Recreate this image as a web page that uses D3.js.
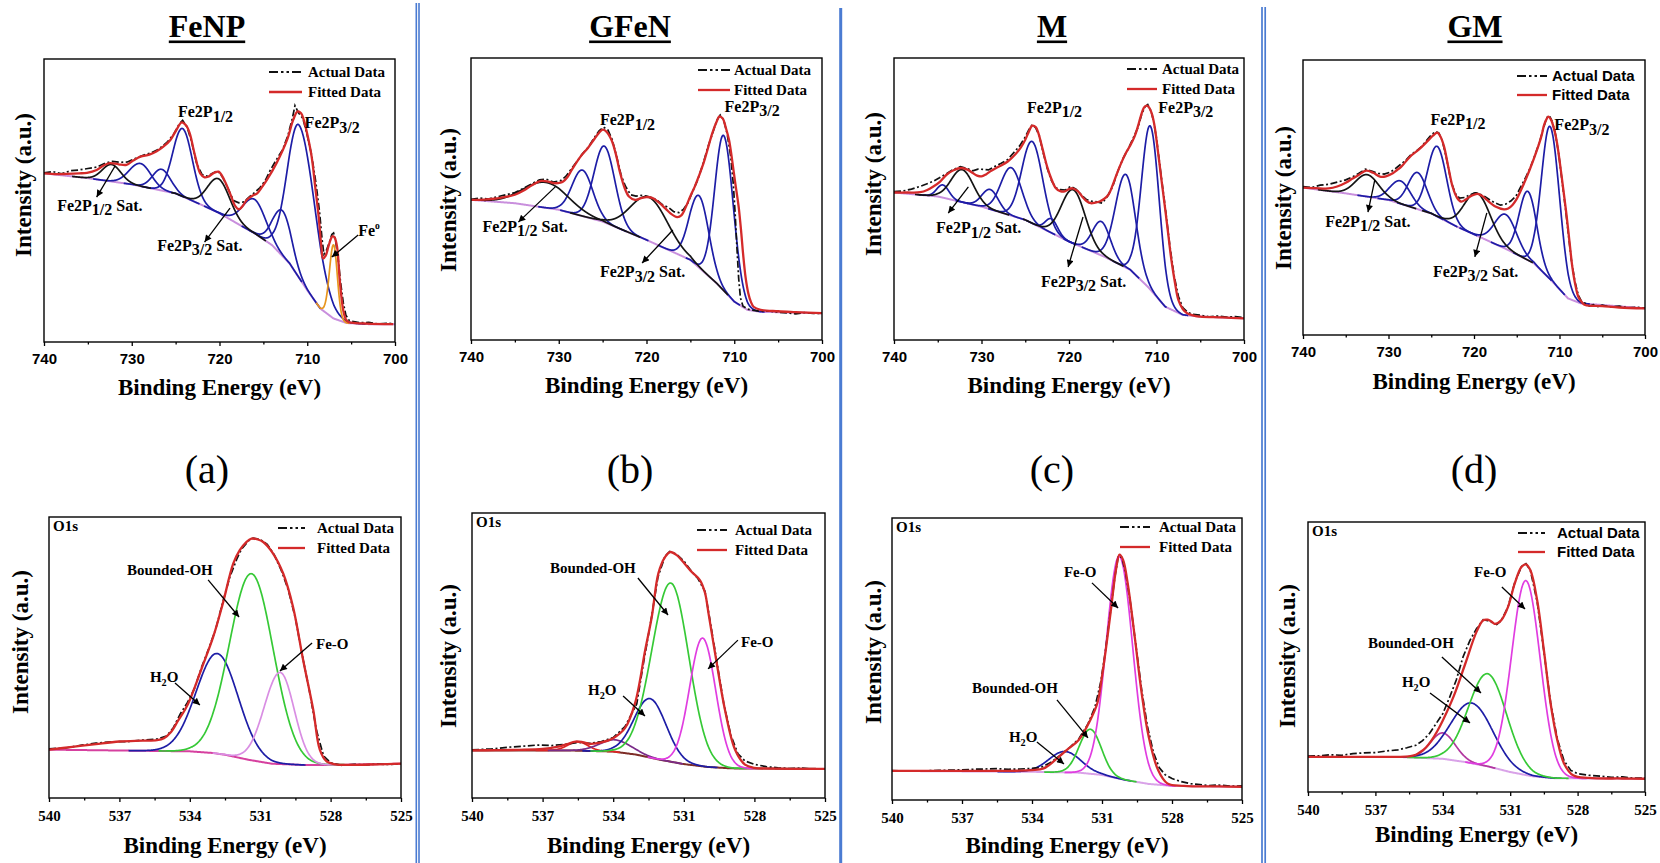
<!DOCTYPE html>
<html><head><meta charset="utf-8">
<script src="https://cdn.jsdelivr.net/npm/d3@7"></script>
<style>
html,body{margin:0;padding:0;background:#fff;}
svg{display:block;}
</style></head><body>
<svg id="fig" width="1660" height="863"></svg>
<script>
// ---------------- tick values ----------------
const fe2pTicks = [740, 730, 720, 710, 700];
const fe2pMinor = [735, 725, 715, 705];
const o1sTicks = [540, 537, 534, 531, 528, 525];
const o1sMinor = [538.5, 535.5, 532.5, 529.5, 526.5];

// ---------------- Fe 2p : FeNP ----------------
// [binding energy (eV), intensity (a.u., 0-100 of the plot height)]
const fenpFit = [[740,59.6],[738.5,59.3],[737.4,59.4],[736,59.6],[735.1,59.8],[734,60.8],[733.2,62.4],[732.5,63.2],[731.5,62.8],[730.6,62.6],[729.8,64.2],[729,65.5],[728,66.2],[727.2,67.3],[726.4,69],[725.6,71.4],[724.9,75],[724.3,77.6],[723.8,76.5],[723.4,73.8],[722.8,66],[722.2,59.6],[721.7,58.2],[721.3,58.4],[720.6,59.8],[720.1,60.2],[719.5,57.5],[718.8,52.5],[718.2,48],[717.8,46.9],[717.3,48.3],[716.9,50.2],[716.2,51.8],[715.7,52.5],[715.1,55],[714.6,57.3],[713.5,63.2],[712.3,71.4],[711.6,78.5],[711.1,81.5],[710.7,80.8],[710.4,78.5],[710,73.5],[709.5,65.5],[709.1,55],[708.7,44.3],[708.4,34],[708.2,29.5],[707.9,30.5],[707.6,33.6],[707.3,36.5],[707.1,37.4],[706.9,37],[706.6,33.6],[706.3,22],[705.9,11.2],[705.6,8],[705.3,7.1],[704.5,6.7],[703.2,6.5],[700.2,6.3]];
const fenpRaw = [[740,59.8],[739,60.2],[738,59.4],[737,60.5],[736,60.8],[735,61.3],[734,61.8],[733,63.2],[732.2,63.8],[731.3,63.5],[730.5,63.6],[729.6,64.8],[728.7,66],[727.8,66.8],[727,68],[726,70.5],[725.2,73.5],[724.6,77],[724.2,78.3],[723.7,76],[723.2,71],[722.6,63],[722,59.2],[721.4,58.6],[720.8,59.6],[720.2,60.5],[719.6,58],[719,54],[718.4,50],[717.8,49.2],[717.2,49.5],[716.6,51.3],[716,52.8],[715.4,54.5],[714.8,57],[714.2,60.8],[713.5,64.5],[712.8,68],[712.2,73],[711.7,79],[711.4,83.5],[711,81],[710.5,79],[710,73],[709.5,66],[709,56],[708.6,46],[708.3,36],[708.1,31],[707.8,32.5],[707.5,35],[707.2,38],[707,38.5],[706.8,36.5],[706.5,30],[706.2,21],[705.9,14],[705.6,9.5],[705.2,7.5],[704,6.8],[703,6.9],[702,6.4],[701,6.6],[700.2,6.5]];
const fenpBg = [[740,59.6],[735,57.9],[730,55.7],[725,52.5],[722,48.4],[720,45.5],[718,41.9],[716,38.4],[714,34.2],[712,27.7],[710,18.3],[708.5,11.8],[707,8.3],[705.5,6.7],[703,6.3],[700,6.3]];
// fitted components: [centre (eV), height above background, FWHM on high-BE side, FWHM on low-BE side]
const fenpMain = [[710.9,54,3.2,4.2],[712.8,16,2.6,2.4],[716.0,12,3.2,3.0],[724.2,24,2.6,2.6],[726.6,7.5,2.4,2.4],[729.0,8,3.0,2.8]];
const fenpSat = [[720.1,12,3.0,3.0],[732.3,6,2.5,2.5]];
const fenpMetal = [[707.0,26,1.1,1.0]];

// ---------------- Fe 2p : GFeN ----------------
const gfenFit = [[740,49.7],[738.5,49.8],[737,50.2],[736,50.8],[735,51.5],[734,53],[733,55],[732,56.4],[731.2,56.2],[730.5,55.6],[729.8,55.8],[729.5,56.2],[729,57.8],[728.5,60.4],[727.5,65.1],[726.7,68],[726,71],[725.4,73.5],[725,74.6],[724.6,74],[724,71],[723.5,66],[723,59.2],[722.5,54],[722,50.9],[721.3,49.7],[720.7,50.2],[720,50.7],[719.3,50.3],[718.5,48.5],[717.8,46.5],[717.3,45],[716.5,43.6],[716,44.3],[715.5,47.3],[715,51],[714.5,54.4],[713.5,62.7],[713,68],[712.5,73.4],[712,77.5],[711.7,79.3],[711.3,78.5],[711,75.7],[710.6,71],[710.3,65.1],[709.9,56],[709.5,47.3],[709.2,38],[709,30.8],[708.7,22],[708.4,16.6],[708.1,13.5],[707.8,11.8],[707,10.7],[705,10.2],[703,9.9],[700,9.5]];
const gfenRaw = [[740,49.9],[739,50.3],[738,50],[737,50.8],[736,51.5],[735,52.3],[734,53.8],[733,55.5],[732.2,56.8],[731.4,57],[730.6,56],[729.8,56.5],[729.2,58],[728.6,60.5],[728,63],[727.3,66],[726.6,68.5],[726,71.5],[725.4,74.2],[724.9,75.5],[724.4,74.5],[723.9,71],[723.4,65],[722.9,58.5],[722.4,54.5],[721.8,51.5],[721.2,51],[720.6,51.3],[720,51],[719.4,50.5],[718.8,49.6],[718.2,48],[717.5,47],[716.9,45.5],[716.3,45.2],[715.8,46.3],[715.3,48.5],[714.7,53],[714.2,56.5],[713.6,62],[713,68.5],[712.5,73],[712,77.8],[711.6,79.8],[711.2,78],[710.8,73],[710.4,65],[710.1,55],[709.9,45],[709.7,33],[709.5,22],[709.3,15],[709,12],[708.5,11],[708,10.6],[707,10.2],[706,10.3],[705,9.8],[704,9.6],[703,9.3],[702,9.7],[701,9.4],[700,9.5]];
const gfenBg = [[740,49.7],[735,48.5],[730,46.2],[725,42],[720,35.5],[715,28.4],[712,20.1],[710,13.6],[708.5,10.7],[707,10],[700,9.5]];
const gfenMain = [[711.2,55,2.4,2.6],[714.0,25.5,2.6,2.6],[724.8,27,2.8,2.8],[727.3,16.3,2.8,2.8]];
const gfenSat = [[719.7,15.5,5.0,5.0],[731.5,9,6,6]];

// ---------------- Fe 2p : M ----------------
const mFit = [[740,52.3],[738.5,52.3],[737,52.4],[736.2,53.2],[735.5,54.4],[734.8,56],[734,58.6],[733.2,60.2],[732.3,61],[731.6,60.4],[731,59.2],[730.5,58.3],[730,58],[729.5,58.7],[729,59.8],[728,61.5],[727,63.3],[726,66.3],[725.5,68.3],[725,71],[724.6,73.8],[724.2,76],[723.8,75.5],[723.5,73.4],[723,67.5],[722.5,61.5],[722,57],[721.5,53.8],[721,52.8],[720.5,52.7],[720,53.5],[719.6,53.8],[719,52.8],[718.5,50.9],[718,49.3],[717.5,48.5],[717,48.7],[716.5,49.1],[716,50],[715.5,51.5],[715,55],[714.5,59.2],[714,63],[713.5,66.3],[713,69],[712.5,72.2],[712.1,76],[711.8,79.3],[711.4,82.5],[711.1,83.1],[710.8,82.2],[710.5,79.9],[710.2,75.5],[710,71],[709.5,58.5],[709,46.2],[708.6,36],[708.3,28.4],[707.9,20.5],[707.5,14.2],[707,11],[706.5,9.5],[705.5,8.5],[705,8.3],[702.5,8],[700,7.7]];
const mRaw = [[740,52.6],[739,52.8],[738,53.5],[737,54.5],[736.3,55.3],[735.5,56.3],[734.8,57.5],[734,59],[733.2,60.5],[732.4,61.5],[731.6,60.8],[731,60],[730.4,60.6],[729.8,60.5],[729.2,60.3],[728.5,61.5],[727.8,62.6],[727,64],[726.3,66.5],[725.6,69],[725,72],[724.6,74.5],[724.2,76.3],[723.8,75.2],[723.4,72.5],[723,67],[722.5,61],[722,56.5],[721.5,54],[721,53.3],[720.4,53.2],[719.8,54.5],[719.2,53.5],[718.6,51.5],[718,49.8],[717.4,49.2],[716.8,49],[716.2,48.5],[715.6,51],[715,54.5],[714.4,60],[713.8,64.5],[713.2,68],[712.6,72],[712.1,75.5],[711.7,80],[711.3,82.8],[711,83.5],[710.6,81],[710.3,77],[710,71.5],[709.5,59],[709,47],[708.5,34],[708,23],[707.5,15.5],[707,11.5],[706.5,10],[706,9.2],[705,8.8],[704,8.2],[703,8.5],[702,8.1],[701,8.3],[700,7.9]];
const mBg = [[740,52.3],[735,50.9],[730,47.3],[725,42.6],[720,34.9],[716,29.6],[713,24.9],[711,18.9],[709,11.8],[707,8.9],[705,8.3],[700,7.7]];
const mMain = [[710.7,58,2.4,2.4],[713.5,33,2.8,2.6],[716.3,12,2.4,2.4],[722.0,5,1.6,1.6],[724.2,29,2.8,2.8],[726.6,17,2.8,2.8],[729.0,7,2.2,2.2],[734.4,4.5,1.6,1.6]];
const mSat = [[719.5,19,3.2,3.2],[732.2,11.5,3.0,3.0]];

// ---------------- Fe 2p : GM ----------------
const gmFit = [[740,53.6],[738.5,53.4],[737,53.3],[736,54],[735,55.4],[734.2,56.9],[733.5,58.2],[732.6,59.8],[731.8,59],[731,57.6],[730.3,57.7],[729.5,58.8],[729,60],[728.5,61.2],[727.5,64.8],[726.5,67.3],[725.5,70.3],[724.8,72.5],[724.3,73.6],[723.9,72],[723.5,68.5],[723,61],[722.5,53.9],[722,50],[721.5,48.5],[721,49.2],[720.5,50.3],[719.6,51.3],[719,50.5],[718.5,49.1],[717.5,46.7],[716.5,45.7],[716,46],[715.5,47.3],[715,49.5],[714.5,52.7],[713.5,60],[712.5,68.5],[712.1,72.5],[711.8,76.4],[711.5,78.6],[711.3,79.4],[711,78.3],[710.6,74.5],[710.3,70],[710,63.6],[709.6,54],[709.2,44.2],[708.8,33],[708.5,24.8],[708.1,17.5],[707.8,13.9],[707.4,12],[707,10.9],[705,10.5],[703,10],[700,9.7]];
const gmRaw = [[740,54],[739,53.6],[738,54.5],[737,54.8],[736,55.6],[735,56.4],[734.2,57.5],[733.5,58.7],[732.7,60.3],[731.9,59.5],[731.2,58.8],[730.5,58.5],[729.8,59.2],[729.2,60.5],[728.6,62],[728,63.5],[727.4,65.5],[726.8,66.8],[726.2,68.3],[725.6,70.5],[725,72.8],[724.5,74],[724.1,73.4],[723.7,70.5],[723.2,64],[722.7,56],[722.2,51.5],[721.7,49.8],[721.1,50],[720.5,51],[719.9,51.5],[719.3,51.2],[718.7,50.3],[718.1,49],[717.5,48],[716.9,47.2],[716.3,47.6],[715.7,48.7],[715.1,50.5],[714.6,53.5],[714,57],[713.4,61],[712.8,66],[712.3,70.5],[711.9,75],[711.5,79],[711.2,79.8],[710.9,78],[710.5,73.5],[710.1,66],[709.7,56],[709.3,46],[708.9,35],[708.6,27],[708.2,19.5],[707.8,14.5],[707.4,12],[707,11.5],[706.5,10.5],[706,11],[705.5,10.3],[705,10.9],[704,10.2],[703,10.5],[702,9.9],[701,10.1],[700,9.8]];
const gmBg = [[740,53.6],[735,51.5],[730,49.1],[725,44.2],[722,39.4],[719,35.2],[716,30.9],[713,26.1],[711,20],[709,13.3],[707.5,11.5],[700,9.7]];
const gmMain = [[711.1,55.5,2.4,2.6],[713.7,25,2.4,2.4],[716.3,12.5,3.0,3.0],[724.3,25.5,2.6,2.6],[726.6,13.3,2.6,2.6],[728.6,8.3,2.8,2.8]];
const gmSat = [[719.6,15.5,3.6,3.6],[732.5,8,3.2,3.2]];

// ---------------- O 1s : (a) FeNP ----------------
const fenpOFit = [[540,17.2],[539,18.2],[538,19.2],[537,20.1],[536,20.4],[535.4,20.6],[535.1,21.3],[534.8,23.5],[534.5,27.5],[534.2,31.5],[534,34.9],[533.5,46],[533,57.4],[532.6,69],[532.15,83.4],[531.87,88.2],[531.6,91],[531.37,92.3],[531.1,92],[530.87,91.1],[530.45,87],[530.02,79.9],[529.6,68],[529.17,49.1],[528.74,31.4],[528.46,17.2],[528.17,13],[527.8,12],[527,11.8],[526,12],[525,12.2]];
const fenpORaw = [[540,17.5],[539.3,17.8],[538.6,18.8],[538,19.5],[537.3,20],[536.6,20.1],[536,20.6],[535.4,21],[535,22],[534.7,25],[534.4,30],[534.1,34],[533.8,39],[533.5,46.5],[533.2,53],[532.9,60],[532.6,69.5],[532.3,78.5],[532,85],[531.8,88.5],[531.5,91.5],[531.3,92.5],[531,92],[530.7,90.3],[530.4,86.5],[530.1,81],[529.8,74],[529.5,64],[529.2,50.5],[528.9,38],[528.6,24],[528.3,15],[528,12.5],[527.5,11.6],[527,12],[526.5,11.8],[526,12.1],[525.5,11.9],[525,12.2]];
const fenpOBg = [[540,17.2],[537,16.9],[534,16.6],[533,16],[532.5,15.4],[531.5,13.6],[530.5,12.2],[529,11.7],[527,11.9],[525,12.2]];
const fenpOH2O = [[532.83,35.6,2.1,2.1]];
const fenpOOH = [[531.37,66.4,2.2,2.2]];
const fenpOFeO = [[530.15,32.6,1.6,1.4]];

// ---------------- O 1s : (b) GFeN ----------------
const gfenOFit = [[540,16.7],[539,16.8],[538,16.9],[537,17.2],[536.4,17.9],[536,18.8],[535.6,19.8],[535.3,19.6],[535,19],[534.5,19.5],[534,21],[533.5,24.5],[533.07,33.3],[532.64,51.9],[532.36,63.6],[532.08,78.8],[531.8,84.5],[531.58,86.3],[531.3,85.2],[531.09,83.4],[530.66,79.3],[530.31,76.4],[530.1,72],[529.95,64.8],[529.6,47.3],[529.25,30.9],[528.82,16.9],[528.4,11.7],[528,10.6],[527,10.3],[525,10.2]];
const gfenORaw = [[540,16.9],[539.2,17.2],[538.5,17.8],[537.8,18.2],[537.2,18.6],[536.6,18.4],[536,18.9],[535.5,19.5],[535,19.2],[534.5,19.8],[534,21.2],[533.5,25],[533,33],[532.7,48],[532.4,62],[532.1,77.5],[531.8,84.8],[531.6,86.5],[531.3,85.5],[531,83.2],[530.7,79.8],[530.4,77],[530.1,72.5],[529.9,63],[529.6,48],[529.3,33],[529,22],[528.7,15.5],[528.4,13],[528,11.8],[527.5,11],[527,10.6],[526.5,10.3],[526,10.5],[525.5,10.1],[525,10.3]];
const gfenOBg = [[540,16.7],[536,16.7],[534,16.3],[533,15.2],[532,13.4],[531,11.9],[530,10.9],[529,10.4],[525,10.2]];
const gfenOHigh = [[535.5,3.1,1.0,1.0]];
const gfenOMid = [[533.9,4.2,1.6,1.6]];
const gfenOH2O = [[532.43,20.7,1.6,1.6]];
const gfenOOH = [[531.55,62.7,1.9,1.8]];
const gfenOFeO = [[530.2,45,1.3,1.3]];

// ---------------- O 1s : (c) M ----------------
const mOFit = [[540,10.3],[538,10.3],[536,10.3],[534.5,10.4],[534,10.6],[533.5,11.2],[533,14.2],[532.5,17.8],[532,21.3],[531.5,28.4],[531.2,34.3],[531,43.8],[530.8,55.6],[530.6,68.6],[530.4,81.7],[530.25,87],[530.1,85.2],[529.9,76.9],[529.6,58],[529.3,37.9],[529,22.5],[528.6,10.7],[528.2,5.9],[527.5,5],[526,4.8],[525,4.7]];
const mORaw = [[540,10.4],[539,10.2],[538,10.5],[537,10.7],[536.5,10.9],[536,11],[535.5,11.1],[535,10.9],[534.5,11],[534,11.2],[533.6,11.6],[533.2,13.3],[532.8,15.8],[532.4,18.5],[532,21.6],[531.6,27],[531.3,33],[531.05,42],[530.85,53],[530.65,66],[530.45,79],[530.3,86.5],[530.15,86],[530,81],[529.8,71],[529.55,55],[529.3,39],[529.05,26],[528.8,17],[528.55,11.5],[528.3,9],[528,7.6],[527.6,6.5],[527.2,5.8],[526.8,5.5],[526.4,5.1],[526,5.3],[525.5,4.9],[525,5]];
const mOBg = [[540,10.3],[534,10],[532,9.7],[531,8.9],[530,7.1],[529,5.7],[528,5],[525,4.7]];
const mOH2O = [[532.6,7.4,1.6,1.6]];
const mOOH = [[531.5,15.8,1.1,1.1]];
const mOFeO = [[530.26,78.8,1.3,1.35]];

// ---------------- O 1s : (d) GM ----------------
const gmOFit = [[540,13],[538.5,13],[537,13],[536,13],[535.5,13.2],[535.2,13.8],[535,14.8],[534.75,16.5],[534.5,19.1],[534.25,22.5],[534,26.5],[533.5,35.8],[533,47.5],[532.5,59.3],[532.2,63.6],[532,63.8],[531.85,63.2],[531.7,62.3],[531.55,62.6],[531.4,63.6],[531.1,68.5],[530.8,77.2],[530.5,83.3],[530.3,84.3],[530.1,82.1],[529.8,71],[529.5,52.5],[529.2,32.7],[528.9,19.1],[528.6,10.5],[528.2,6.2],[527.5,5.2],[526,5],[525,4.9]];
const gmORaw = [[540,13.3],[539.5,13.4],[539,13.8],[538.5,13.6],[538,14.2],[537.5,14.5],[537,14.6],[536.5,15.2],[536,15.6],[535.6,16.4],[535.2,17.3],[534.9,19],[534.6,21.6],[534.3,25.3],[534,29],[533.7,35],[533.4,41.5],[533.1,50],[532.8,56],[532.5,60.5],[532.2,63.8],[532,63.5],[531.8,62.8],[531.6,62],[531.4,63.5],[531.1,68.5],[530.8,77.5],[530.5,83.5],[530.3,84.6],[530.1,82],[529.8,70.5],[529.5,52],[529.2,33],[528.9,19.5],[528.6,11.5],[528.3,8],[528,6.8],[527.5,6.2],[527,5.9],[526.5,5.4],[526,5.6],[525.5,5.1],[525,5.2]];
const gmOBg = [[540,13],[536,13],[534,12.3],[533,11.1],[532,9.5],[531,7.4],[530,5.8],[529,5.1],[525,4.9]];
const gmOHigh = [[534.0,9.6,1.3,1.3]];
const gmOH2O = [[532.71,22.3,2.2,2.2]];
const gmOOH = [[532.0,34.3,2.0,2.0]];
const gmOFeO = [[530.3,72,1.5,1.5]];

// ---------------- styling ----------------
const SERIF = '"Liberation Serif","Times New Roman",serif';
const SANS = '"Liberation Sans",Arial,sans-serif';
const C = {
  blue: '#1d1da6', black: '#141414', orange: '#e8961e', fit: '#d42a2a',
  bgTop: '#c98fdd', green: '#36c936', violet: '#d98ee3', magenta: '#e03de0',
  purple: '#7a2b88', crimson: '#e02424', plum: '#b2369f',
  bgA: '#d6409f', bgB: '#7d2d27', bgLight: '#d9a2e8', sep: '#4a7bd2'
};

const svg = d3.select('#fig');
const defs = svg.append('defs');
defs.append('marker').attr('id', 'head')
  .attr('viewBox', '0 0 10 10').attr('refX', 10).attr('refY', 5)
  .attr('markerWidth', 8).attr('markerHeight', 7).attr('markerUnits', 'userSpaceOnUse')
  .attr('orient', 'auto')
  .append('path').attr('d', 'M0,0 L10,5 L0,10 z').attr('fill', '#000');

// column separators
[[416.3, 1.6, 3], [419, 1.6, 3], [840.7, 3, 8], [1262, 1.7, 7], [1265.2, 1.7, 7]].forEach(([x, w, y0]) => {
  svg.append('rect').attr('x', x - w / 2).attr('y', y0).attr('width', w).attr('height', 863 - y0).attr('fill', C.sep);
});

// label helper: parts are strings or [text, 'sub'|'subs'|'sup']
function richText(sel, parts, size) {
  let shift = 0;
  parts.forEach(p => {
    const t = sel.append('tspan');
    if (typeof p === 'string') {
      t.text(p).attr('dy', -shift); shift = 0;
    } else {
      const [txt, kind] = p;
      let d = 0, fs = size;
      if (kind === 'sub') { d = 4.5; }
      if (kind === 'subs') { d = 4; fs = size * 0.68; }
      if (kind === 'sup') { d = -7; fs = size * 0.6; }
      t.text(txt).attr('dy', d - shift).attr('font-size', fs);
      shift = d;
    }
  });
}

const panels = [
  { title: 'FeNP', titleX: 207, frame: [44, 59, 395, 342], dom: [740, 700], ticks: fe2pTicks, minor: fe2pMinor, tickFont: SANS, tickPad: 7,
    xLab: 53, yLab: [23, 185], legend: [225, 13, 33, 6, 20, SERIF],
    fit: fenpFit, raw: fenpRaw, bg: fenpBg, bgColor: C.bgTop,
    comps: [[fenpMain, C.blue], [fenpSat, C.black], [fenpMetal, C.orange]],
    labels: [
      { at: [724.73, 79.5], parts: ['Fe2P', ['1/2', 'sub']] },
      { at: [710.3, 75.6], parts: ['Fe2P', ['3/2', 'sub']] },
      { at: [738.5, 46.3], parts: ['Fe2P', ['1/2', 'sub'], ' Sat.'] },
      { at: [727.1, 32.2], parts: ['Fe2P', ['3/2', 'sub'], ' Sat.'] },
      { at: [704.2, 37.5], parts: ['Fe', ['o', 'sup']] }
    ],
    arrows: [[[731.9, 62.2], [734.0, 51.2]], [[718.8, 47.3], [721.7, 35.3]], [[704.2, 37.8], [707.2, 30]]],
    labelSize: 16 },
  { title: 'GFeN', titleX: 630, frame: [471, 58, 822, 340], dom: [740, 700], ticks: fe2pTicks, minor: fe2pMinor, tickFont: SANS, tickPad: 7,
    xLab: 53, yLab: [448, 200], legend: [227, 12, 32, 4, 20, SERIF],
    fit: gfenFit, raw: gfenRaw, bg: gfenBg, bgColor: C.bgTop,
    comps: [[gfenMain, C.blue], [gfenSat, C.black]],
    labels: [
      { at: [725.3, 76.2], parts: ['Fe2P', ['1/2', 'sub']] },
      { at: [711.1, 80.9], parts: ['Fe2P', ['3/2', 'sub']] },
      { at: [738.7, 38.3], parts: ['Fe2P', ['1/2', 'sub'], ' Sat.'] },
      { at: [725.3, 22.3], parts: ['Fe2P', ['3/2', 'sub'], ' Sat.'] }
    ],
    arrows: [[[730.4, 54.3], [734.6, 41.8]], [[717.0, 39], [720.5, 27.3]]],
    labelSize: 16 },
  { title: 'M', titleX: 1052, frame: [894, 58, 1244, 340], dom: [740, 700], ticks: fe2pTicks, minor: fe2pMinor, tickFont: SANS, tickPad: 7,
    xLab: 53, yLab: [873, 184], legend: [233, 11, 30, 5, 20, SERIF],
    fit: mFit, raw: mRaw, bg: mBg, bgColor: C.bgTop,
    comps: [[mMain, C.blue], [mSat, C.black]],
    labels: [
      { at: [724.8, 80.5], parts: ['Fe2P', ['1/2', 'sub']] },
      { at: [709.8, 80.5], parts: ['Fe2P', ['3/2', 'sub']] },
      { at: [735.2, 37.9], parts: ['Fe2P', ['1/2', 'sub'], ' Sat.'] },
      { at: [723.2, 18.8], parts: ['Fe2P', ['3/2', 'sub'], ' Sat.'] }
    ],
    arrows: [[[731.5, 54.3], [733.8, 45]], [[718.4, 43.6], [720.1, 25.9]]],
    labelSize: 16 },
  { title: 'GM', titleX: 1475, frame: [1303, 60, 1645, 335], dom: [740, 700], ticks: fe2pTicks, minor: fe2pMinor, tickFont: SANS, tickPad: 7,
    xLab: 54, yLab: [1283, 198], legend: [214, 16, 30, 5, 19, SANS],
    fit: gmFit, raw: gmRaw, bg: gmBg, bgColor: C.bgTop,
    comps: [[gmMain, C.blue], [gmSat, C.black]],
    labels: [
      { at: [725.1, 76.4], parts: ['Fe2P', ['1/2', 'sub']] },
      { at: [710.6, 74.5], parts: ['Fe2P', ['3/2', 'sub']] },
      { at: [737.4, 39.3], parts: ['Fe2P', ['1/2', 'sub'], ' Sat.'] },
      { at: [724.8, 21.1], parts: ['Fe2P', ['3/2', 'sub'], ' Sat.'] }
    ],
    arrows: [[[731.6, 56.4], [732.4, 44.7]], [[718.5, 44.4], [719.9, 28.4]]],
    labelSize: 16 },
  { tag: '(a)', tagX: 207, frame: [49, 517, 401, 798], dom: [540, 525], ticks: o1sTicks, minor: o1sMinor, tickFont: SERIF, tickPad: 8,
    xLab: 55, yLab: [20, 642], legend: [229, 11, 27, 12, 20, SERIF],
    fit: fenpOFit, raw: fenpORaw, bg: fenpOBg, bgColor: C.bgA,
    comps: [[fenpOH2O, C.blue], [fenpOOH, C.green], [fenpOFeO, C.violet]],
    labels: [
      { at: [536.68, 79.4], parts: ['Bounded-OH'] },
      { at: [535.70, 41.3], parts: ['H', ['2', 'subs'], 'O'] },
      { at: [528.62, 53], parts: ['Fe-O'] }
    ],
    arrows: [[[533.22, 77.6], [531.90, 64.4]], [[534.63, 40.9], [533.57, 33.1]], [[528.79, 55.2], [530.16, 45.2]]],
    labelSize: 15, o1s: true },
  { tag: '(b)', tagX: 630, frame: [472, 513, 825, 798], dom: [540, 525], ticks: o1sTicks, minor: o1sMinor, tickFont: SERIF, tickPad: 8,
    xLab: 55, yLab: [448, 656], legend: [225, 17, 30, 8, 20, SERIF],
    fit: gfenOFit, raw: gfenORaw, bg: gfenOBg, bgColor: C.bgB,
    comps: [[gfenOHigh, C.crimson], [gfenOMid, C.purple], [gfenOH2O, C.blue], [gfenOOH, C.green], [gfenOFeO, C.magenta]],
    labels: [
      { at: [536.69, 78.9], parts: ['Bounded-OH'] },
      { at: [535.07, 36.1], parts: ['H', ['2', 'subs'], 'O'] },
      { at: [528.57, 53], parts: ['Fe-O'] }
    ],
    arrows: [[[532.95, 77.2], [531.67, 64.2]], [[533.58, 35.8], [532.65, 28.8]], [[528.70, 55.4], [529.97, 45.3]]],
    labelSize: 15, o1s: true },
  { tag: '(c)', tagX: 1052, frame: [892, 518, 1242, 800], dom: [540, 525], ticks: o1sTicks, minor: o1sMinor, tickFont: SERIF, tickPad: 8,
    xLab: 53, yLab: [873, 652], legend: [228, 9, 30, 9, 20, SERIF],
    fit: mOFit, raw: mORaw, bg: mOBg, bgColor: C.bgLight,
    comps: [[mOH2O, C.blue], [mOOH, C.green], [mOFeO, C.magenta]],
    labels: [
      { at: [532.63, 79.1], parts: ['Fe-O'] },
      { at: [536.57, 37.9], parts: ['Bounded-OH'] },
      { at: [534.99, 20.6], parts: ['H', ['2', 'subs'], 'O'] }
    ],
    arrows: [[[531.43, 77], [530.31, 68.1]], [[532.93, 35.5], [531.6, 22]], [[533.79, 20.6], [532.63, 12.8]]],
    labelSize: 15, o1s: true },
  { tag: '(d)', tagX: 1474, frame: [1308, 522, 1645, 792], dom: [540, 525], ticks: o1sTicks, minor: o1sMinor, tickFont: SERIF, tickPad: 8,
    xLab: 50, yLab: [1287, 656], legend: [210, 11, 27, 12, 19, SANS],
    fit: gmOFit, raw: gmORaw, bg: gmOBg, bgColor: C.bgLight,
    comps: [[gmOHigh, C.plum], [gmOH2O, C.blue], [gmOOH, C.green], [gmOFeO, C.magenta]],
    labels: [
      { at: [532.61, 79.6], parts: ['Fe-O'] },
      { at: [537.33, 53.3], parts: ['Bounded-OH'] },
      { at: [535.82, 38.9], parts: ['H', ['2', 'subs'], 'O'] }
    ],
    arrows: [[[531.37, 75.9], [530.34, 67.8]], [[534.04, 50], [532.3, 36.7]], [[534.57, 36.7], [532.79, 25.6]]],
    labelSize: 15, o1s: true }
];

const LN4 = 4 * Math.LN2;

panels.forEach((p, i) => {
  const [l, t, r, b] = p.frame;
  const x = d3.scaleLinear().domain(p.dom).range([l, r]);
  const y = d3.scaleLinear().domain([0, 100]).range([b, t]);
  const g = svg.append('g');

  defs.append('clipPath').attr('id', 'clip' + i)
    .append('rect').attr('x', l).attr('y', t).attr('width', r - l).attr('height', b - t);
  const plot = g.append('g').attr('clip-path', `url(#clip${i})`);

  const smooth = d3.line().x(d => x(d[0])).y(d => y(d[1])).curve(d3.curveBasis);
  const bgAt = d3.scaleLinear().domain(p.bg.map(d => d[0])).range(p.bg.map(d => d[1])).clamp(true);

  // background
  const eAll = d3.range(p.dom[0], p.dom[1] - 1e-9, -0.05);
  plot.append('path').datum(eAll.map(e => [e, bgAt(e)]))
    .attr('d', smooth).attr('fill', 'none').attr('stroke', p.bgColor).attr('stroke-width', 2);

  // fitted components sitting on the background
  p.comps.forEach(([list, color]) => {
    list.forEach(([c, h, wHi, wLo]) => {
      const es = d3.range(c + 1.8 * wHi, c - 1.8 * wLo, -0.02);
      const pts = es.map(e => {
        const w = e > c ? wHi : wLo;
        return [e, bgAt(e) + h * Math.exp(-LN4 * ((e - c) / w) ** 2)];
      });
      plot.append('path').datum(pts).attr('d', smooth)
        .attr('fill', 'none').attr('stroke', color).attr('stroke-width', 1.7);
    });
  });

  // measured spectrum
  plot.append('path').datum(p.raw)
    .attr('d', d3.line().x(d => x(d[0])).y(d => y(d[1])))
    .attr('fill', 'none').attr('stroke', '#111').attr('stroke-width', 1.7)
    .attr('stroke-dasharray', '7,2.5,2,2.5');

  // fitted envelope
  plot.append('path').datum(p.fit)
    .attr('d', d3.line().x(d => x(d[0])).y(d => y(d[1])).curve(d3.curveCatmullRom.alpha(0.5)))
    .attr('fill', 'none').attr('stroke', C.fit).attr('stroke-width', 2.3);

  // frame
  g.append('rect').attr('x', l).attr('y', t).attr('width', r - l).attr('height', b - t)
    .attr('fill', 'none').attr('stroke', '#000').attr('stroke-width', 1.4);

  // axis ticks
  const axMajor = g.append('g').attr('transform', `translate(0,${b})`)
    .call(d3.axisBottom(x).tickValues(p.ticks).tickSize(4).tickPadding(p.tickPad).tickFormat(d3.format('d')));
  const axMinor = g.append('g').attr('transform', `translate(0,${b})`)
    .call(d3.axisBottom(x).tickValues(p.minor).tickSize(2.5).tickFormat(''));
  [axMajor, axMinor].forEach(a => {
    a.select('.domain').remove();
    a.selectAll('line').attr('stroke', '#000').attr('stroke-width', 1.3);
  });
  axMajor.selectAll('text').attr('font-family', p.tickFont).attr('font-weight', 'bold')
    .attr('font-size', 15).attr('fill', '#000');

  // axis titles
  g.append('text').attr('x', (l + r) / 2).attr('y', b + p.xLab).attr('text-anchor', 'middle')
    .attr('font-family', SERIF).attr('font-weight', 'bold').attr('font-size', 23)
    .text('Binding Energy (eV)');
  g.append('text').attr('transform', `translate(${p.yLab[0]},${p.yLab[1]}) rotate(-90)`)
    .attr('text-anchor', 'middle').attr('dy', '0.35em')
    .attr('font-family', SERIF).attr('font-weight', 'bold').attr('font-size', 23)
    .text('Intensity (a.u.)');

  // legend
  const [lx, ly, llen, lgap, lrow, lfont] = p.legend;
  const L = g.append('g').attr('transform', `translate(${l + lx},${t + ly})`);
  L.append('line').attr('x1', 0).attr('x2', llen).attr('y1', 0).attr('y2', 0)
    .attr('stroke', '#111').attr('stroke-width', 2).attr('stroke-dasharray', '9,3,2.5,3,2.5,3');
  L.append('line').attr('x1', 0).attr('x2', llen).attr('y1', lrow).attr('y2', lrow)
    .attr('stroke', C.fit).attr('stroke-width', 2.3);
  [['Actual Data', 0], ['Fitted Data', lrow]].forEach(([txt, yy]) => {
    L.append('text').attr('x', llen + lgap).attr('y', yy).attr('dy', '0.35em')
      .attr('font-family', lfont).attr('font-weight', 'bold').attr('font-size', 15).text(txt);
  });

  if (p.o1s) {
    g.append('text').attr('x', l + 4).attr('y', t + 14)
      .attr('font-family', SERIF).attr('font-weight', 'bold').attr('font-size', 15).text('O1s');
  }

  // peak labels and arrows
  p.labels.forEach(lb => {
    const tx = g.append('text').attr('x', x(lb.at[0])).attr('y', y(lb.at[1]))
      .attr('font-family', SERIF).attr('font-weight', 'bold').attr('font-size', p.labelSize);
    richText(tx, lb.parts, p.labelSize);
  });
  p.arrows.forEach(([a, z]) => {
    g.append('line').attr('x1', x(a[0])).attr('y1', y(a[1])).attr('x2', x(z[0])).attr('y2', y(z[1]))
      .attr('stroke', '#000').attr('stroke-width', 1.3).attr('marker-end', 'url(#head)');
  });

  // sample title (top row) or panel letter (bottom row)
  if (p.title) {
    const tt = svg.append('text').attr('x', p.titleX).attr('y', 37).attr('text-anchor', 'middle')
      .attr('font-family', SERIF).attr('font-weight', 'bold').attr('font-size', 32).text(p.title);
    const w = tt.node().getComputedTextLength();
    svg.append('rect').attr('x', p.titleX - w / 2).attr('y', 40.5).attr('width', w).attr('height', 2.6).attr('fill', '#000');
  }
  if (p.tag) {
    svg.append('text').attr('x', p.tagX).attr('y', 483).attr('text-anchor', 'middle')
      .attr('font-family', SERIF).attr('font-size', 40).text(p.tag);
  }
});
</script>
</body></html>
